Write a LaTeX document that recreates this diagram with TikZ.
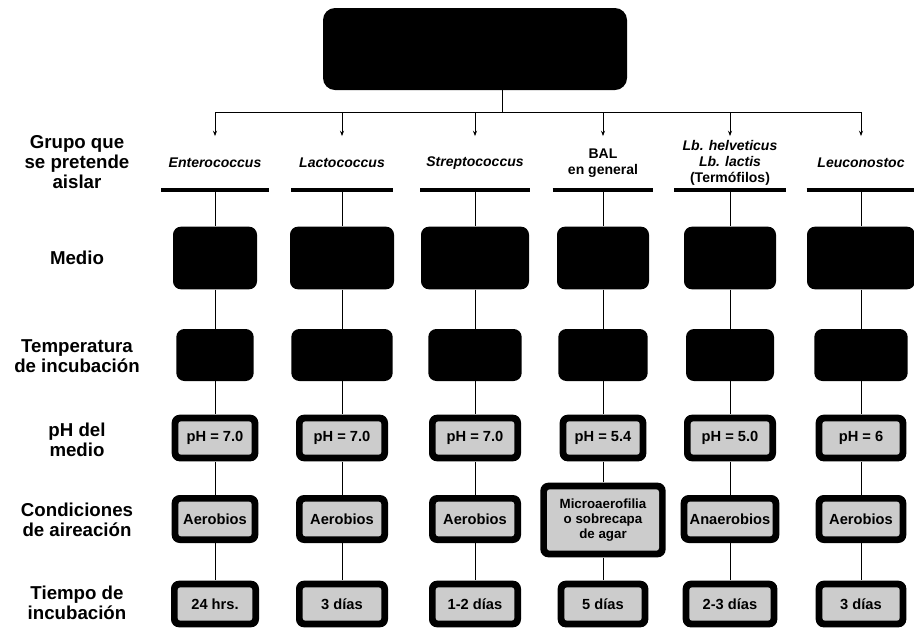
\documentclass[tikz,border=0pt]{standalone}
\usepackage{fontspec}
\setmainfont{Liberation Sans}
\usetikzlibrary{arrows.meta,calc,backgrounds}

\begin{document}
\begin{tikzpicture}[x=0.75pt,y=-0.75pt,
    darkbox/.style={fill=black,rounded corners=6pt,inner sep=0pt},
    litbox/.style={darkbox,minimum height=35pt,align=center,
        font=\bfseries\fontsize{11}{12}\selectfont,
        path picture={\fill[white!80!black,rounded corners=2pt]
            ($(path picture bounding box.south west)+(5pt,5pt)$) rectangle
            ($(path picture bounding box.north east)-(5pt,5pt)$);}},
    grupo/.style={minimum height=40pt,inner sep=1pt,align=center,
        font=\bfseries\itshape\fontsize{10.5}{12}\selectfont},
    fila/.style={align=center,font=\bfseries\fontsize{14}{15}\selectfont},
    liga/.style={line width=0.6pt}]
    \useasboundingbox (0,0) rectangle (914,633);
    %top box
    \node[darkbox,minimum width=228pt,minimum height=61.5pt,rounded corners=9pt] (top) at (475,49) {};
    \coordinate (split) at (502,112);
    % row labels
    \node[fila] (lgrupo) at (77,162) {Grupo que\\se pretende\\aislar};
    \node[fila] (lmedio) at (77,258) {Medio};
    \node[fila] (ltemp) at (77,356) {Temperatura\\de incubación};
    \node[fila] (lph) at (77,440) {pH del\\medio};
    \node[fila] (laire) at (77,520) {Condiciones\\de aireación};
    \node[fila] (ltiempo) at (77,603) {Tiempo de\\incubación};
    % groups
    \node[grupo,minimum width=80pt] (g1) at (215,163) {Enterococcus};
    \node[grupo,minimum width=76pt] (g2) at (342,163) {Lactococcus};
    \node[grupo,minimum width=82pt] (g3) at (475,163) {Streptococcus};
    \node[grupo,minimum width=75pt] (g4) at (603,163) {\upshape BAL\\\upshape en general};
    \node[grupo,minimum width=83pt] (g5) at (730,163) {Lb. helveticus\\Lb. lactis\\\upshape (Termófilos)};
    \node[grupo,minimum width=81pt] (g6) at (861,163) {Leuconostoc};
    \foreach \c in {1,...,6}
        \draw[line width=3.5pt] (g\c.south west) -- (g\c.south east);
    \draw[liga] (top.south -| split) -- (split);
    \draw[liga] (split -| g1) -- (split -| g6);
    \foreach \c in {1,...,6}
        \draw[liga,-{Stealth[length=4pt,width=3pt]}] (split -| g\c) -- (g\c.north);
    % medio and temperatura
    \foreach \c/\x/\wm/\wt in {1/215/63/58,2/342/78/76,3/475/81/70,4/603/69/67,5/730/69/66,6/861/81/70}{
        \node[darkbox,minimum width=\wm pt,minimum height=47pt] (m\c) at (\x,258) {};
        \node[darkbox,minimum width=\wt pt,minimum height=39pt] (t\c) at (\x,355) {};
    }
    % pH
    \node[litbox,minimum width=65pt] (p1) at (215,438) {pH = 7.0};
    \node[litbox,minimum width=69pt] (p2) at (342,438) {pH = 7.0};
    \node[litbox,minimum width=69pt] (p3) at (475,438) {pH = 7.0};
    \node[litbox,minimum width=65pt] (p4) at (603,438) {pH = 5.4};
    \node[litbox,minimum width=69pt] (p5) at (730,438) {pH = 5.0};
    \node[litbox,minimum width=68pt] (p6) at (861,438) {pH = 6};
    % aireacion
    \node[litbox,minimum width=65pt,minimum height=36pt] (a1) at (215,519) {Aerobios};
    \node[litbox,minimum width=69pt,minimum height=36pt] (a2) at (342,519) {Aerobios};
    \node[litbox,minimum width=69pt,minimum height=36pt] (a3) at (475,519) {Aerobios};
    \node[litbox,minimum width=94pt,minimum height=56pt,font=\bfseries\fontsize{10}{11}\selectfont] (a4) at (603,520) {Microaerofilia\\o sobrecapa\\de agar};
    \node[litbox,minimum width=74pt,minimum height=36pt] (a5) at (730,519) {Anaerobios};
    \node[litbox,minimum width=68pt,minimum height=36pt] (a6) at (861,519) {Aerobios};
    % tiempo
    \node[litbox,minimum width=66pt] (h1) at (215,604) {24 hrs.};
    \node[litbox,minimum width=69pt] (h2) at (342,604) {3 días};
    \node[litbox,minimum width=69pt] (h3) at (475,604) {1-2 días};
    \node[litbox,minimum width=68pt] (h4) at (603,604) {5 días};
    \node[litbox,minimum width=71pt] (h5) at (730,604) {2-3 días};
    \node[litbox,minimum width=68pt] (h6) at (861,604) {3 días};
    \begin{scope}[on background layer]
    \foreach \c in {1,...,6}
        \draw[liga] (g\c.south) -- (m\c.north) (m\c.south) -- (t\c.north)
            (t\c.south) -- (p\c.north) (p\c.south) -- (a\c.north)
            (a\c.south) -- (h\c.north);
    \end{scope}
\end{tikzpicture}
\end{document}
